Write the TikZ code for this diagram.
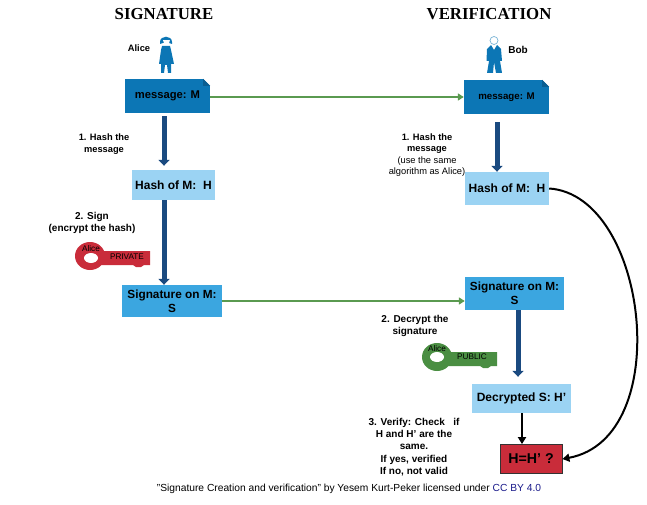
\documentclass[tikz,border=0pt]{standalone}
\usepackage{fontspec}
\setmainfont[Ligatures=ResetAll]{Liberation Sans}
\newfontfamily\titlefont{Liberation Serif}
\usetikzlibrary{arrows.meta}
\definecolor{msgblue}{HTML}{0C76B5}
\definecolor{foldblue}{HTML}{0A5E92}
\definecolor{hashblue}{HTML}{9BD3F3}
\definecolor{signblue}{HTML}{3BA6E0}
\definecolor{arrowblue}{HTML}{1A4A80}
\definecolor{linegreen}{HTML}{5A9A50}
\definecolor{keyred}{HTML}{C92C3A}
\definecolor{keygreen}{HTML}{4A8E42}
\definecolor{capblue}{HTML}{1A1A8A}
\tikzset{
	boxbase/.style={inner sep=0pt,align=center,font=\bfseries\fontsize{#1}{14}\selectfont},
	msgbox/.style={boxbase=#1,fill=msgblue,minimum width=85pt,minimum height=34pt},
	hashbox/.style={boxbase=12,fill=hashblue},
	signbox/.style={boxbase=11.8,fill=signblue},
	bigarrow/.style={draw=arrowblue,line width=5pt,-{Triangle[width=11pt,length=6pt]}},
	greenline/.style={draw=linegreen,line width=1.8pt,-{Triangle[width=7pt,length=6pt]}},
	blackline/.style={draw=black,line width=2pt,-{Triangle[width=8pt,length=7pt]}},
	steptext/.style={inner sep=0pt,align=center,font=\bfseries\fontsize{#1}{11.4}\selectfont},
	steptext/.default=10,
	titletext/.style={font=\titlefont\bfseries\fontsize{16.8}{18}\selectfont},
	keytext/.style={inner sep=0pt,font=\fontsize{8.2}{9}\selectfont},
}
\begin{document}
\begin{tikzpicture}[x=1pt,y=-1pt]
	\useasboundingbox (0,0) rectangle (647,505);
	\def\keyhead{(0,0) ellipse (15pt and 14pt)}
	\def\keyshaft{(8,-5) -- (60,-5) -- (60,9) -- (54,9) -- (51,11) -- (46,11) -- (43,9) -- (8,9) -- cycle}
	\def\folded#1{
		\fill[white] ([xshift=-7pt]#1.north east) -- (#1.north east) -- ([yshift=-7pt]#1.north east) -- cycle;
		\fill[foldblue] ([xshift=-7pt]#1.north east) -- ([yshift=-7pt]#1.north east) -- ([xshift=-7pt,yshift=-7pt]#1.north east) -- cycle;
	}
	% titles
	\node[titletext] (titleA) at (164,14) {SIGNATURE};
	\node[titletext] (titleB) at (489,14) {VERIFICATION};
	% people
	\fill[msgblue] (162,46) -- (170,46) -- (171,50) -- (174,64) -- (171,64) -- (171,73) -- (168,73) -- (167,65) -- (165,65) -- (164,73) -- (161,73) -- (161,64) -- (159,64) -- (161,50) -- cycle;
	\fill[msgblue] (160,42) .. controls (160,35) and (172,35) .. (172,42) -- (172,44) -- (169,43) -- (163,43) -- (160,44) -- cycle;
	\fill[white] (162.5,40.5) -- (169.5,40.5) .. controls (169.5,46) and (162.5,46) .. (162.5,40.5) -- cycle;
	\fill[msgblue] (487,49) -- (491,45) -- (494,50) -- (497,45) -- (501,49) -- (502,61) -- (500,61) -- (502,73) -- (496,73) -- (494,62) -- (493,73) -- (487,73) -- (489,61) -- (486.5,61) -- cycle;
	\draw[fill=white,draw=msgblue!55,line width=.7pt] (494,40.5) circle (4pt);
	\node[steptext=9.3] (alice) at (139,48) {Alice};
	\node[steptext] (bob) at (518,49.5) {Bob};
	% boxes
	\node[msgbox=11.2] (msgA) at (167.5,96) {message: M};
	\node[msgbox=9.7] (msgB) at (506.5,97) {message: M};
	\folded{msgA}
	\folded{msgB}
	\node[hashbox,minimum width=83pt,minimum height=30pt] (hashA) at (173.5,185) {Hash of M:\ \ H};
	\node[hashbox,minimum width=84pt,minimum height=33pt] (hashB) at (507,188.5) {Hash of M:\ \ H};
	\node[signbox,minimum width=100pt,minimum height=32pt] (signA) at (172,301) {Signature on M:\\S};
	\node[signbox,minimum width=99pt,minimum height=33pt] (signB) at (514.5,293.5) {Signature on M:\\S};
	\node[hashbox,minimum width=99pt,minimum height=29pt] (decrypt) at (521.5,398.5) {Decrypted S:\ H'};
	\node[boxbase=14.2,fill=keyred,draw=black!80,line width=.8pt,minimum width=62pt,minimum height=29pt] (check) at (531,459) {H=H' ?};
	% arrows
	\draw[bigarrow] ([xshift=-3.5pt,yshift=-3pt]msgA.south) -- ([xshift=-9.5pt,yshift=4pt]hashA.north);
	\draw[bigarrow] ([xshift=-9.5pt]hashA.south) -- ([xshift=-8pt]signA.north);
	\draw[bigarrow] ([xshift=-9.5pt,yshift=-8pt]msgB.south) -- ([xshift=-10pt]hashB.north);
	\draw[bigarrow] ([xshift=3.5pt]signB.south) -- ([xshift=-3.5pt,yshift=7pt]decrypt.north);
	\draw[greenline] (msgB.west -| msgA.east) -- (msgB.west);
	\draw[greenline] (signA.east) -- (signB.west |- signA.east);
	\draw[blackline] ([xshift=.5pt]decrypt.south) -- ([xshift=-9pt]check.north);
	\draw[blackline] (hashB.east) .. controls (648,195) and (676,438) .. (check.east);
	% keys
	\begin{scope}[shift={(90,256)}]
		\fill[keyred] \keyhead;
		\fill[keyred] \keyshaft;
		\fill[white] (1,2) ellipse (7pt and 5pt);
	\end{scope}
	\node[keytext] (keyA) at (91,249) {Alice};
	\node[keytext] (privA) at (127,257) {PRIVATE};
	\begin{scope}[shift={(437,357)}]
		\fill[keygreen] \keyhead;
		\fill[keygreen] \keyshaft;
		\fill[white] (0,0) ellipse (7pt and 5pt);
	\end{scope}
	\node[keytext] (keyB) at (437,349) {Alice};
	\node[keytext] (pubB) at (472,357) {PUBLIC};
	% labels
	\node[steptext=9.3] (stepA1) at (104,144) {1. Hash the\\message};
	\node[steptext] (stepA2) at (92,223) {2. Sign\\(encrypt the hash)};
	\node[steptext=9.3] (stepB1) at (427,155) {1. Hash the\\message\\\mdseries(use the same\\\mdseries algorithm as Alice)};
	\node[steptext] (stepB2) at (415,326) {2. Decrypt the\\signature};
	\node[font=\bfseries\fontsize{10}{12.2}\selectfont,inner sep=0pt,align=center] (stepB3) at (414,447) {3. Verify: Check\ \ \ if\\H and H' are the\\same.\\If yes, verified\\If no, not valid};
	\node[inner sep=0pt,font=\fontsize{10.25}{12}\selectfont] (caption) at (349,488.5) {"Signature Creation and verification" by Yesem Kurt-Peker licensed under \textcolor{capblue}{CC BY 4.0}};
\end{tikzpicture}
\end{document}
